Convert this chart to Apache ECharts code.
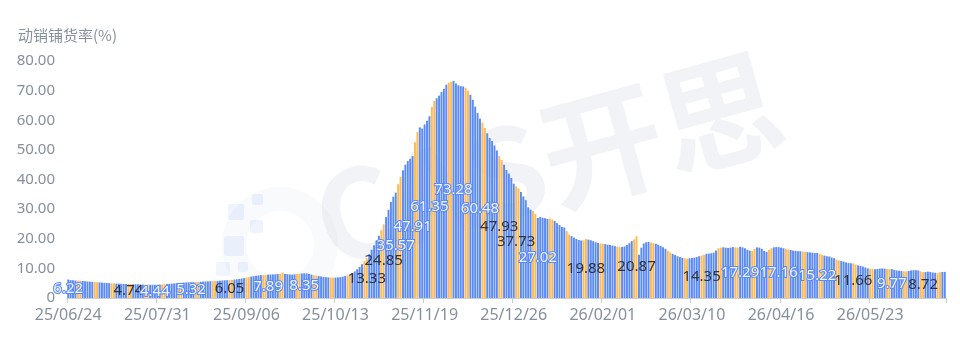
<!DOCTYPE html>
<html><head><meta charset="utf-8">
<script src="https://cdn.jsdelivr.net/npm/echarts@6/dist/echarts.min.js"></script>
<style>html,body{margin:0;padding:0;background:#fff}#c{width:960px;height:339px}</style>
</head><body><div id="c"></div>
<script>
// ---- data ----
const startDate = '2025-06-24';   // first category (daily)
const dayCount = 365;
const rate = [
 6.22,6.05,5.98,5.90,5.85,5.80,5.74,5.66,5.58,5.52,
 5.45,5.40,5.33,5.28,5.20,5.12,5.08,5.02,4.96,4.92,
 4.88,4.85,4.80,4.78,4.76,4.74,4.70,4.66,4.62,4.60,
 4.57,4.55,4.52,4.50,4.48,4.46,4.44,4.47,4.52,4.58,
 4.64,4.70,4.78,4.85,4.92,5.00,5.06,5.12,5.20,5.26,
 5.30,5.32,5.36,5.40,5.45,5.50,5.54,5.58,5.62,5.66,
 5.70,5.74,5.80,5.86,5.92,5.98,6.02,6.05,6.12,6.20,
 6.30,6.42,6.55,6.70,6.88,7.05,7.22,7.38,7.50,7.62,
 7.70,7.78,7.84,7.89,7.92,7.95,8.02,8.10,8.22,8.58,
 8.15,8.05,7.96,7.90,7.98,8.10,8.20,8.28,8.35,8.30,
 8.10,7.90,7.70,7.55,7.40,7.25,7.12,7.02,6.95,6.90,
 6.88,6.90,6.96,7.05,7.20,7.40,7.65,7.95,8.40,9.00,
 9.70,10.50,11.40,12.40,13.33,14.80,16.30,17.80,19.40,21.00,
 22.90,24.85,27.30,29.80,32.40,34.20,35.57,38.40,40.90,43.10,
 45.00,46.20,47.00,47.91,52.60,56.00,57.60,57.20,58.60,59.80,
 61.35,64.50,66.50,67.40,68.30,69.50,70.60,72.00,72.70,72.90,
 73.28,72.40,71.80,71.50,71.40,70.90,70.00,68.60,66.90,64.60,
 62.40,60.48,59.20,57.40,55.60,54.00,53.00,51.50,49.80,47.93,
 46.60,45.00,43.20,42.00,40.50,38.60,37.73,37.00,35.80,34.30,
 33.00,30.60,29.80,29.40,28.40,27.02,27.30,27.10,26.90,26.70,
 26.80,26.50,26.00,25.30,24.60,24.00,23.80,22.60,21.40,20.90,
 20.40,19.90,19.60,19.40,19.50,19.88,19.70,19.50,19.20,18.80,
 18.60,18.40,18.30,18.20,18.00,17.90,17.70,17.50,17.30,17.20,
 17.20,17.40,17.90,18.50,19.20,19.80,20.87,14.60,17.00,18.40,
 18.80,18.90,18.70,18.50,18.30,18.00,17.60,17.10,16.60,16.00,
 15.40,14.90,14.50,14.10,13.80,13.60,13.40,13.30,13.40,13.50,
 13.60,13.80,14.10,14.35,14.60,14.90,15.00,15.10,15.30,16.00,
 16.80,17.00,17.10,17.00,16.90,17.00,17.20,17.10,17.00,17.29,
 17.10,16.80,16.30,16.00,15.90,16.60,17.10,17.00,16.60,15.90,
 15.60,16.20,16.80,17.10,17.20,17.16,17.00,16.80,16.60,16.40,
 16.20,16.00,15.90,15.80,15.80,15.70,15.60,15.50,15.40,15.30,
 15.20,15.22,14.90,14.60,14.30,14.10,14.00,13.70,13.40,13.00,
 12.70,12.50,12.30,12.00,11.80,11.70,11.66,11.30,11.00,10.80,
 10.60,10.30,10.00,9.90,9.80,9.70,9.80,9.90,10.00,9.90,
 9.80,9.80,9.77,9.50,9.30,9.20,9.10,9.00,9.00,9.10,
 9.30,9.40,9.40,9.30,9.00,8.72,8.80,8.90,8.80,8.60,
 8.50,8.40,8.70,8.80,8.80
];
// bars that carry a value label
const labelIdx = [0,25,36,51,67,83,98,124,131,136,143,150,160,171,179,186,195,215,236,263,279,295,311,326,342,355];
const yMax = 80, yStep = 10;
const yName = '动销铺货率(%)';

// ---- build ----
const BLUE = '#5A8AF4', ORANGE = '#FFBA55';
const dates = [], weekend = [];
const d0 = new Date(startDate + 'T00:00:00Z');
for (let i = 0; i < dayCount; i++) {
  const d = new Date(d0.getTime() + i * 86400000);
  const yy = String(d.getUTCFullYear()).slice(2);
  const mm = String(d.getUTCMonth() + 1).padStart(2, '0');
  const dd = String(d.getUTCDate()).padStart(2, '0');
  dates.push(yy + '/' + mm + '/' + dd);
  const wd = d.getUTCDay();
  weekend.push(wd === 0 || wd === 6);
}
const labelSet = new Set(labelIdx);
const FONT = 'Noto Sans';
const seriesData = rate.map((v, i) => {
  const we = weekend[i];
  const item = { value: v, itemStyle: { color: we ? ORANGE : BLUE } };
  if (labelSet.has(i)) {
    item.label = {
      show: true, position: 'inside', fontSize: 15, fontFamily: FONT,
      color: we ? '#333' : '#eef3ff',
      textBorderColor: BLUE, textBorderWidth: we ? 0 : 2
    };
  }
  return item;
});

const chart = echarts.init(document.getElementById('c'), null, { renderer: 'canvas' });
chart.setOption({
  animation: false,
  backgroundColor: '#fff',
  title: {
    text: yName, left: 13, top: 23,
    textStyle: { fontSize: 15, fontWeight: 'normal', color: '#86909C', fontFamily: 'Noto Sans CJK SC' }
  },
  graphic: [
    { type: 'group', silent: true, z: -10, children: [
      { type: 'circle', shape: { cx: 280, cy: 245, r: 58 }, style: { fill: 'rgba(200,206,222,0.10)' } },
      { type: 'circle', shape: { cx: 280, cy: 245, r: 34 }, style: { fill: '#fff' } },
      { type: 'rect', shape: { x: 228, y: 204, width: 16, height: 16, r: 2 }, style: { fill: 'rgba(91,140,245,0.10)' } },
      { type: 'rect', shape: { x: 250, y: 220, width: 13, height: 13, r: 2 }, style: { fill: 'rgba(91,140,245,0.10)' } },
      { type: 'rect', shape: { x: 224, y: 236, width: 20, height: 20, r: 2 }, style: { fill: 'rgba(91,140,245,0.09)' } },
      { type: 'rect', shape: { x: 252, y: 194, width: 11, height: 11, r: 2 }, style: { fill: 'rgba(91,140,245,0.10)' } },
      { type: 'rect', shape: { x: 216, y: 262, width: 14, height: 14, r: 2 }, style: { fill: 'rgba(91,140,245,0.09)' } },
      { type: 'rect', shape: { x: 238, y: 262, width: 10, height: 10, r: 2 }, style: { fill: 'rgba(91,140,245,0.09)' } },
      { type: 'text', x: 548, y: 160, rotation: 0.27,
        style: { text: 'CAS开思', font: 'bold 122px "Noto Sans CJK SC"', fill: 'rgba(190,195,208,0.20)', align: 'center', verticalAlign: 'middle' } }
    ]}
  ],
  grid: { left: 67, right: 14, top: 61, bottom: 41, containLabel: false },
  xAxis: {
    type: 'category', data: dates, boundaryGap: true,
    axisLine: { lineStyle: { color: '#C9CDD4' } },
    axisTick: { show: true, interval: 36, length: 5, lineStyle: { color: '#C9CDD4' } },
    axisLabel: { interval: 36, color: '#86909C', fontSize: 16, fontFamily: FONT, margin: 9 }
  },
  yAxis: {
    type: 'value', min: 0, max: yMax, interval: yStep,
    splitLine: { show: false },
    axisLine: { show: false }, axisTick: { show: false },
    axisLabel: { color: '#86909C', fontSize: 15, fontFamily: FONT, margin: 12,
      formatter: v => v === 0 ? '0' : v.toFixed(2) }
  },
  series: [{
    type: 'bar', data: seriesData, barCategoryGap: '20%',
    label: { show: false }
  }]
});
</script>
</body></html>
